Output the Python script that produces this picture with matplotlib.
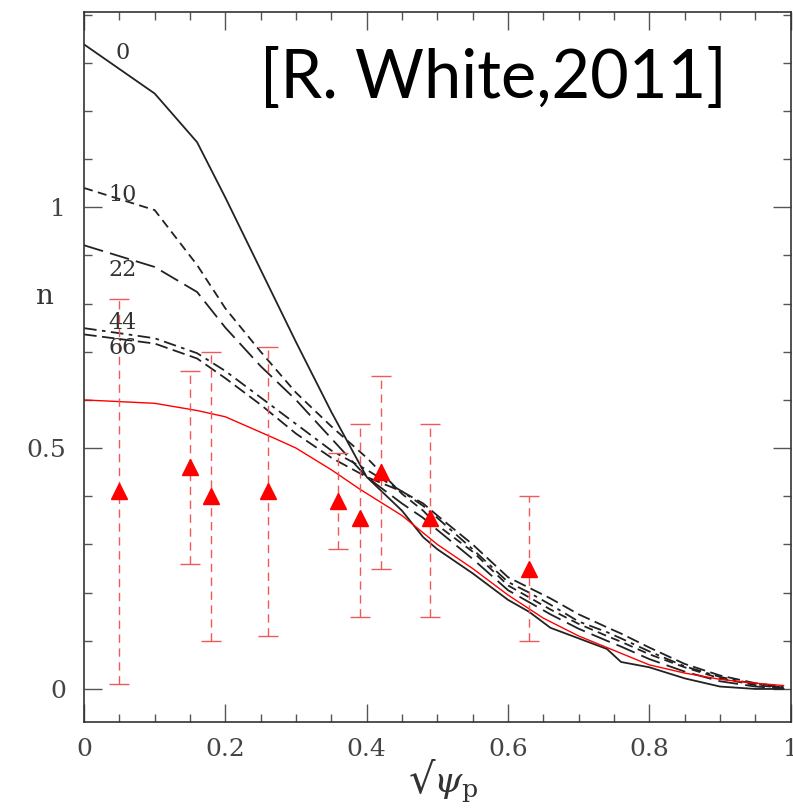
import matplotlib
matplotlib.use("Agg")
import matplotlib.pyplot as plt
from matplotlib.ticker import MultipleLocator

plt.rcParams['mathtext.fontset'] = 'dejavuserif'

# model profiles n(sqrt(psi_p)), labelled by time
xg = [0, 0.1, 0.16, 0.2, 0.25, 0.3, 0.35, 0.4, 0.45, 0.48, 0.5, 0.55, 0.6, 0.63, 0.66, 0.7, 0.74, 0.76, 0.8, 0.85, 0.9, 0.95, 0.99]
n0  = [1.338, 1.236, 1.135, 1.02, 0.87, 0.72, 0.575, 0.44, 0.37, 0.315, 0.29, 0.24, 0.185, 0.16, 0.127, 0.105, 0.083, 0.056, 0.045, 0.022, 0.005, 0.0, 0.0]
n10 = [1.04, 0.994, 0.88, 0.79, 0.70, 0.615, 0.545, 0.48, 0.405, 0.37, 0.34, 0.285, 0.215, 0.19, 0.165, 0.135, 0.11, 0.098, 0.072, 0.045, 0.022, 0.008, 0.002]
n22 = [0.921, 0.876, 0.824, 0.75, 0.67, 0.60, 0.52, 0.44, 0.385, 0.355, 0.33, 0.27, 0.205, 0.18, 0.155, 0.125, 0.1, 0.088, 0.062, 0.036, 0.016, 0.005, 0.001]
n44 = [0.749, 0.728, 0.697, 0.66, 0.605, 0.55, 0.495, 0.455, 0.41, 0.38, 0.355, 0.29, 0.222, 0.2, 0.175, 0.14, 0.118, 0.105, 0.078, 0.047, 0.025, 0.01, 0.003]
n66 = [0.736, 0.717, 0.686, 0.645, 0.59, 0.53, 0.48, 0.44, 0.41, 0.385, 0.36, 0.30, 0.232, 0.21, 0.188, 0.155, 0.128, 0.115, 0.086, 0.052, 0.028, 0.012, 0.004]
curve_labels = ['0', '10', '22', '44', '66']

# red fit
xr = [0, 0.1, 0.16, 0.2, 0.27, 0.3, 0.35, 0.39, 0.45, 0.5, 0.55, 0.6, 0.65, 0.7, 0.75, 0.8, 0.85, 0.9, 0.95, 0.99]
nr = [0.60, 0.593, 0.578, 0.565, 0.52, 0.50, 0.455, 0.415, 0.36, 0.30, 0.25, 0.195, 0.147, 0.11, 0.08, 0.05, 0.033, 0.02, 0.012, 0.007]

# measurements
xm = [0.05, 0.15, 0.18, 0.26, 0.36, 0.39, 0.42, 0.49, 0.63]
nm = [0.41, 0.46, 0.40, 0.41, 0.39, 0.355, 0.45, 0.355, 0.25]
nm_hi = [0.81, 0.66, 0.70, 0.71, 0.49, 0.55, 0.65, 0.55, 0.40]
nm_lo = [0.01, 0.26, 0.10, 0.11, 0.29, 0.15, 0.25, 0.15, 0.10]

fig = plt.figure(figsize=(7.93, 8.10), dpi=100)
ax = fig.add_axes([0.106, 0.109, 0.891, 0.876])

ax.plot(xg, n0, color='#222222', lw=1.3)
ax.plot(xg, n10, color='#222222', lw=1.3, dashes=(5, 3))
ax.plot(xg, n22, color='#222222', lw=1.3, dashes=(11, 4))
ax.plot(xg, n44, color='#222222', lw=1.3, dashes=(7, 3, 2, 3))
ax.plot(xg, n66, color='#222222', lw=1.3, dashes=(7, 3))
ax.plot(xr, nr, color='red', lw=1.0)

err = [[m - l for m, l in zip(nm, nm_lo)], [h - m for m, h in zip(nm, nm_hi)]]
eb = ax.errorbar(xm, nm, yerr=err, fmt='none', ecolor='#ee5a5a', elinewidth=1.0,
                 capsize=7, capthick=1.0)
eb[2][0].set_linestyle((0, (6, 4)))
ax.plot(xm, nm, '^', color='red', ms=12, mec='red')

# curve labels
lab_y = [1.32, 1.025, 0.87, 0.76, 0.707]
for t, yy in zip(curve_labels, lab_y):
    ax.text(0.054, yy, t, fontsize=16, family='DejaVu Serif', color='#333333',
            ha='center', va='center')

ax.set_xlim(0, 1)
ax.set_ylim(-0.068, 1.405)
ax.xaxis.set_major_locator(MultipleLocator(0.2))
ax.xaxis.set_minor_locator(MultipleLocator(0.05))
ax.yaxis.set_major_locator(MultipleLocator(0.5))
ax.yaxis.set_minor_locator(MultipleLocator(0.1))
ax.xaxis.set_major_formatter(plt.FuncFormatter(lambda v, p: ('%g' % v)))
ax.yaxis.set_major_formatter(plt.FuncFormatter(lambda v, p: ('%g' % v)))
ax.tick_params(which='both', direction='in', top=True, right=True, color='#555555', width=1)
ax.tick_params(which='major', length=13)
ax.tick_params(which='minor', length=6)
ax.tick_params(axis='x', which='major', pad=12)
ax.tick_params(axis='y', which='major', pad=13)
for lab in ax.get_xticklabels() + ax.get_yticklabels():
    lab.set_family('DejaVu Serif')
    lab.set_fontsize(18)
    lab.set_color('#444444')
for s in ax.spines.values():
    s.set_color('#333333')
    s.set_linewidth(1.2)

fig.text(44 / 793, 1 - 296 / 810, 'n', fontsize=20, family='DejaVu Serif', color='#333333',
         ha='center', va='center')
fig.text(435 / 793, 1 - 780 / 810, '√', fontsize=30, family='DejaVu Sans',
         color='#333333', ha='right', va='center')
fig.text(433 / 793, 1 - 788 / 810, '$\\psi_{\\rm p}$', fontsize=26,
         color='#333333', ha='left', va='center')

fig.text(260 / 793, 1 - 98 / 810, '[R. White,2011]', fontsize=48, family='Lato',
         ha='left', va='baseline', color='black')

fig.savefig('out.png', dpi=100)
